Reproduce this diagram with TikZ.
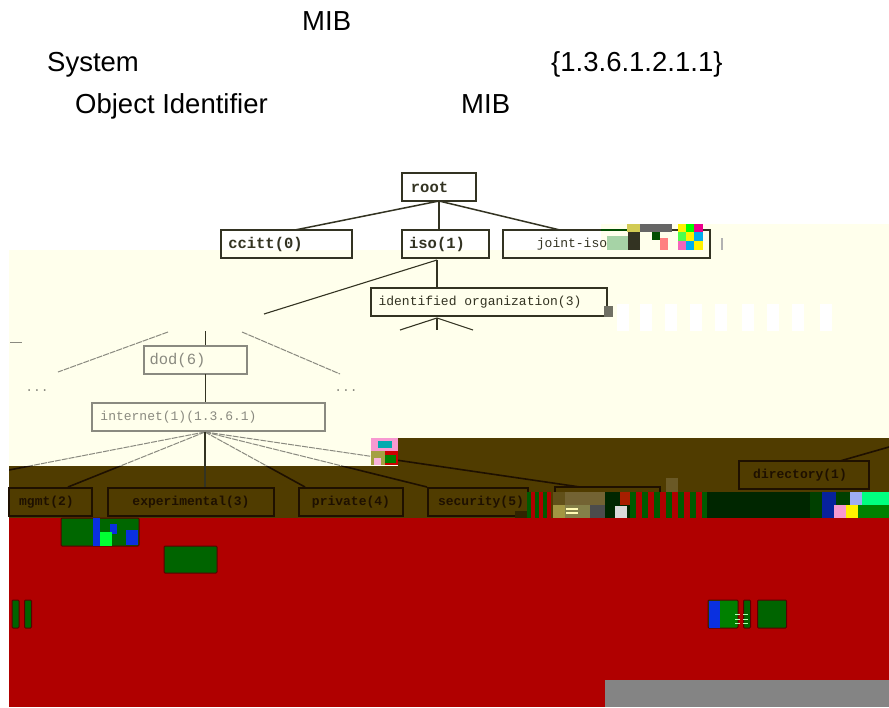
\documentclass[tikz,border=0pt]{standalone}
\usepackage{fontspec}
\setmainfont{Liberation Sans}
\setmonofont{Liberation Mono}
\definecolor{paleY}{HTML}{FFFFEC}
\definecolor{brownB}{HTML}{503C00}
\definecolor{redB}{HTML}{B00000}
\definecolor{darkG}{HTML}{006400}
\definecolor{midG}{HTML}{008000}
\definecolor{blackG}{HTML}{002600}
\definecolor{blueB}{HTML}{0A30E0}
\definecolor{grayB}{HTML}{848484}
\definecolor{inkD}{HTML}{333322}
\definecolor{inkB}{HTML}{1E1000}
\definecolor{inkL}{HTML}{8A8A80}
\newcommand{\bx}[6]{\node[#1,minimum width=#4pt,minimum height=#5pt] (#2) at (#3) {#6};}
\tikzset{
  x=1pt,y=-1pt,
  headline/.style={font=\fontsize{27.5}{30}\selectfont,anchor=base west,inner sep=0,text=black},
  treebox/.style={draw=inkD,line width=1.2pt,inner sep=0,font=\ttfamily\bfseries\fontsize{15.5}{17}\selectfont,text=inkD},
  lightbox/.style={draw=inkL,line width=1.1pt,inner sep=0,font=\ttfamily\fontsize{15.5}{17}\selectfont,text=inkL},
  darkbox/.style={draw=inkB,line width=1.3pt,inner sep=0,font=\ttfamily\bfseries\fontsize{13}{15}\selectfont,text=inkB},
  topline/.style={draw=inkD,line width=1.5pt},
  grayline/.style={draw=inkL,line width=1pt,dash pattern=on 6pt off 1pt},
  brownline/.style={draw=inkB,line width=1.6pt},
  greenbar/.style={draw=red!35!black,line width=1pt,fill=darkG,rounded corners=1pt}
}
\begin{document}
\begin{tikzpicture}
\useasboundingbox (0,0) rectangle (889,707);
\fill[white] (0,0) rectangle (889,707);
% background bands
\fill[paleY] (601,224) rectangle (889,250);
\fill[paleY] (9,250) rectangle (889,466);
\fill[brownB] (398,438) rectangle (889,466);
\fill[brownB] (9,466) rectangle (889,518);
\fill[redB] (9,518) rectangle (889,707);
\fill[grayB] (605,680) rectangle (889,707);
% headline text
\node[headline] (t1) at (302,30) {MIB};
\node[headline] (t2) at (47,71) {System};
\node[headline] (t3) at (551,71) {\{1.3.6.1.2.1.1\}};
\node[headline] (t4) at (75,113) {Object Identifier};
\node[headline] (t5) at (461,113) {MIB};
% tree, top part
\bx{treebox}{root}{439,187}{74}{28}{\hspace*{-19pt}root}
\bx{treebox}{ccitt}{286.5,244}{131}{28}{\hspace*{-42pt}ccitt(0)}
\bx{treebox}{iso}{445.5,244}{87}{28}{\hspace*{-17pt}iso(1)}
\node[treebox,font=\ttfamily\fontsize{13}{15}\selectfont,minimum width=207pt,minimum height=28pt] (joint) at (606.5,244) {\hspace*{-69pt}joint-iso};
\node[treebox,font=\ttfamily\fontsize{13}{15}\selectfont,minimum width=236pt,minimum height=28pt] (ident) at (489,302) {\hspace*{-18pt}identified organization(3)};
\draw[inkD,line width=2pt] (371,316) -- (603,316);
\coordinate (cc) at (295,230);
\coordinate (jj) at (560,230);
\coordinate (i1) at (264,314);
\coordinate (i2) at (437,260);
\coordinate (up) at (437,287);
\coordinate (fan) at (437,318);
\coordinate (fa) at (400,330);
\coordinate (fb) at (437,330);
\coordinate (fc) at (473,330);
\coordinate (rt) at (439,201);
\draw[topline] (rt) -- (cc);
\draw[topline] (rt) -- (439,230);
\draw[topline] (rt) -- (jj);
\draw[topline,line width=1.1pt] (i2) -- (i1);
\draw[topline,line width=1.1pt] (i2) -- (up);
\draw[topline,line width=1.1pt] (fan) -- (fa);
\draw[topline,line width=1.1pt] (fan) -- (fb);
\draw[topline,line width=1.1pt] (fan) -- (fc);
% tree, middle part
\bx{lightbox}{dod}{195.5,360}{103}{28}{\hspace*{-36pt}dod(6)}
\node[lightbox,font=\ttfamily\fontsize{13}{15}\selectfont,minimum width=233pt,minimum height=28pt] (inet) at (208.5,417) {\hspace*{-60pt}internet(1)(1.3.6.1)};
\node[text=inkL,font=\ttfamily\fontsize{13}{15}\selectfont,inner sep=0] (dl) at (37,391) {...};
\node[text=inkL,font=\ttfamily\fontsize{13}{15}\selectfont,inner sep=0] (dr) at (346,391) {...};
\coordinate (dlA) at (168,332);
\coordinate (dlB) at (58,372);
\coordinate (drA) at (242,332);
\coordinate (drB) at (340,374);
\coordinate (dt) at (205,331);
\draw[grayline] (dlA) -- (dlB);
\draw[grayline] (drA) -- (drB);
\draw[inkD,line width=1pt] (dt) -- (205,345);
\draw[inkD,line width=1pt] (205,374) -- (205,402);
\draw[inkL,line width=.8pt] (10,342) -- (22,342);
% bottom row of boxes
\bx{darkbox}{mgmt}{50.5,502}{83}{28}{\hspace*{-8pt}mgmt(2)}
\bx{darkbox}{expt}{191,502}{166}{28}{experimental(3)}
\bx{darkbox}{priv}{351,502}{104}{28}{private(4)}
\bx{darkbox}{secu}{478,502}{100}{28}{\hspace*{6pt}security(5)}
\bx{darkbox}{trans}{607.5,502}{105}{30}{}
\bx{darkbox}{dirb}{804,475}{130}{28}{\hspace*{-8pt}directory(1)}
\coordinate (c0) at (9,470);
\coordinate (c1) at (68,487);
\coordinate (c3) at (305,487);
\coordinate (c4) at (427,487);
\coordinate (c5) at (580,487);
\coordinate (d1) at (840,461);
\coordinate (d2) at (889,447);
\coordinate (ib) at (205,432);
\newcommand{\fanset}{%
  \draw (ib) -- (c0);
  \draw (ib) -- (c1);
  \draw (ib) -- (c3);
  \draw (ib) -- (c4);
  \draw (ib) -- (c5);
}
\begin{scope}
  \clip (9,431) rectangle (398,466);
  \begin{scope}[every path/.style={grayline}]
    \fanset
  \end{scope}
\end{scope}
\begin{scope}
  \clip (9,466) rectangle (889,488) (398,438) rectangle (889,466);
  \begin{scope}[every path/.style={brownline}]
    \fanset
  \end{scope}
\end{scope}
\draw[inkD,line width=1.2pt] (inet.south -| ib) -- (ib |- expt.north);
\draw[brownline] (d1) -- (d2);
% corrupted patches: top
\fill[midG!35!white] (607,236) rectangle (628,250);
\fill[midG!60!black] (601,229) rectangle (628,231);
\fill[inkD] (628,229) rectangle (640,250);
\fill[yellow!60!gray] (627,224) rectangle (640,232);
\fill[black!60] (640,224) rectangle (672,232);
\fill[midG!60!black] (652,232) rectangle (660,240);
\fill[red!50!white] (660,238) rectangle (668,250);
\foreach \px/\py/\pc in {678/224/yellow,686/224/green,694/224/magenta,678/232/green!70,686/232/yellow,694/232/cyan,678/241/magenta!60,686/241/cyan,694/241/yellow}
  \fill[\pc] (\px,\py) rectangle ++(9,8.5);
\fill[gray!60] (721,238) rectangle (723,250);
% corrupted patches: stripes
\foreach \sx in {617,640,665,690,715,742,767,792,820}
  \fill[white] (\sx,304) rectangle ++(12,27);
\fill[inkD!70] (604,306) rectangle (613,317);
% corrupted patches: centre
\fill[magenta!40] (371,438) rectangle (398,451);
\fill[cyan!60!green] (378,441) rectangle (392,448);
\fill[red!80!black] (385,451) rectangle (398,465);
\fill[midG] (385,455) rectangle (396,463);
\fill[yellow!60!black] (371,451) rectangle (385,465);
\fill[magenta!30] (374,458) rectangle (381,465);
\fill[brownB!85!white] (666,478) rectangle (678,492);
% corrupted band
\fill[brownB!60!black] (515,511) rectangle (527,518);
\foreach \sx in {527,535,543}{
  \fill[midG!70!black] (\sx,492) rectangle ++(4,26);
  \fill[redB] (\sx+4,492) rectangle ++(4,26);}
\fill[brownB!90!white] (553,492) rectangle (565,505);
\fill[brownB!80!white] (565,492) rectangle (605,505);
\fill[yellow!40!brownB] (553,505) rectangle (565,518);
\fill[yellow!45!black] (565,505) rectangle (590,518);
\fill[white!70!yellow] (566,508) rectangle (578,510);
\fill[white!70!yellow] (566,512) rectangle (578,514);
\fill[black!70] (590,505) rectangle (605,518);
\fill[blackG] (605,492) rectangle (630,518);
\fill[brownB!50!red] (620,492) rectangle (630,505);
\foreach \sx in {630,642,654,666,678,690,702}{
  \fill[midG!70!black] (\sx,492) rectangle ++(6,26);
  \fill[redB] (\sx+6,492) rectangle ++(6,26);}
\fill[white!70!gray] (615,506) rectangle (627,518);
\fill[blackG] (707,492) rectangle (810,518);
\fill[midG!50!black] (810,492) rectangle (822,518);
\fill[blueB!70!black] (822,492) rectangle (836,518);
\fill[midG!50!black] (836,492) rectangle (850,518);
\fill[blueB!40!white] (850,492) rectangle (862,505);
\fill[green!50!cyan] (862,492) rectangle (889,505);
\fill[white!60!magenta] (834,505) rectangle (846,518);
\fill[yellow] (846,505) rectangle (858,518);
\fill[midG] (858,505) rectangle (889,518);
% green blocks on red
\fill[midG!80!black,draw=red!35!black,line width=1pt,rounded corners=1pt] (61,518) rectangle (139,546);
\fill[blueB] (93,518) rectangle (100,546);
\fill[blueB] (110,524) rectangle (117,534);
\fill[blueB] (126,530) rectangle (138,545);
\fill[green!80!cyan] (100,532) rectangle (112,546);
\node[greenbar,minimum width=53pt,minimum height=27pt,inner sep=0] (g1) at (190.5,559.5) {};
\node[greenbar,minimum width=7pt,minimum height=28pt,inner sep=0] (g2) at (15.5,614) {};
\node[greenbar,minimum width=7pt,minimum height=28pt,inner sep=0] (g3) at (28,614) {};
\node[greenbar,fill=midG,minimum width=30pt,minimum height=28pt,inner sep=0] (g4) at (723,614) {};
\fill[blueB] (709,600.5) rectangle (720,627.5);
\node[greenbar,minimum width=7pt,minimum height=28pt,inner sep=0] (g5) at (747,614) {};
\node[greenbar,minimum width=29pt,minimum height=28pt,inner sep=0] (g6) at (772,614) {};
\foreach \wy in {614,619,623}{
  \fill[white!70!green] (735,\wy) rectangle ++(5,1.2);
  \fill[white!70!green] (743,\wy) rectangle ++(5,1.2);}
\end{tikzpicture}
\end{document}
